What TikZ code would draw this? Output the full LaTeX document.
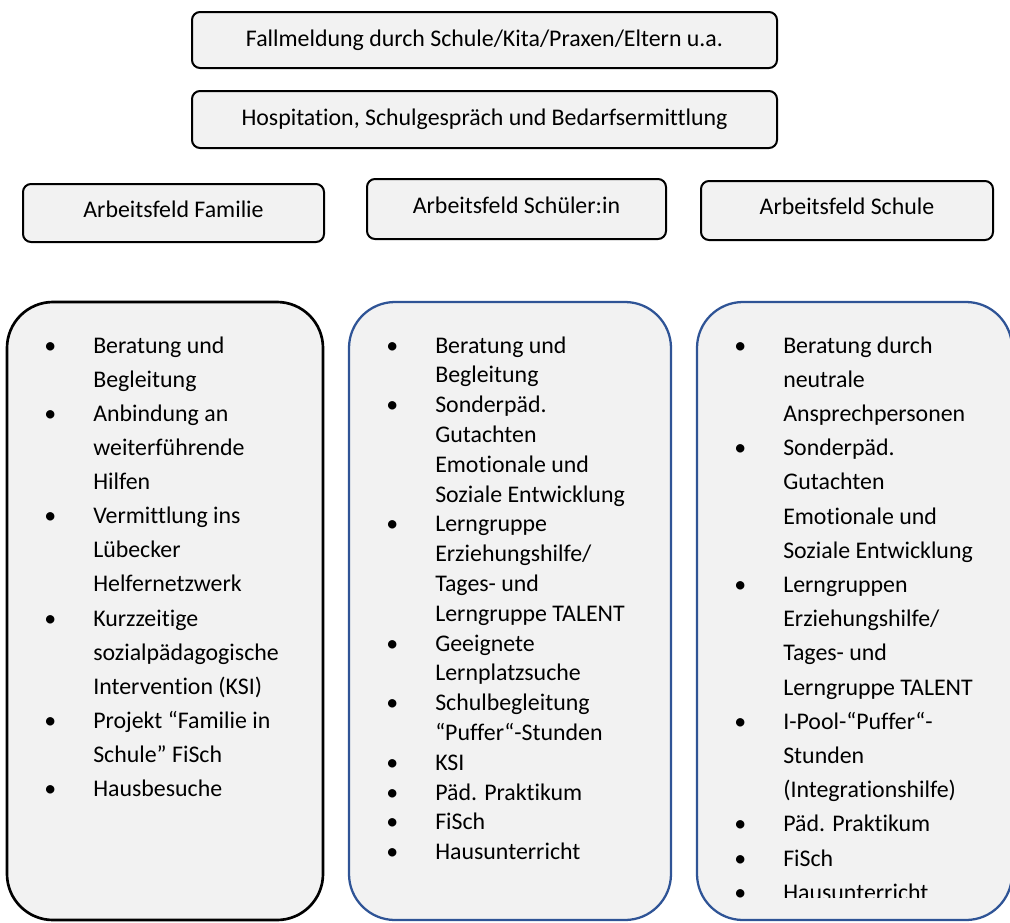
\documentclass[tikz,border=0pt]{standalone}
\usepackage{fontspec}
\setmainfont{Carlito}[RawFeature={-liga;-clig;-calt;-dlig}]
\definecolor{boxgray}{HTML}{F2F2F2}
\definecolor{boxblue}{HTML}{2F5496}
\newcommand\bul{\leavevmode\llap{\makebox[64.5pt][c]{\textbullet}}}
\newcommand\listpar[2]{\parbox[t]{230pt}{\fontsize{17.9pt}{#1}\selectfont\raggedright #2}}
\begin{document}
\begin{tikzpicture}[x=0.75pt,y=-0.75pt,
  topbox/.style={draw=black,line width=1.5pt,fill=boxgray,rounded corners=6pt,inner sep=0pt,
    font=\fontsize{17.9pt}{21pt}\selectfont},
  hightext/.style={text height=0.9em,text depth=0pt},
  fieldtext/.style={text height=0.64em,text depth=0pt},
  bigbox/.style={fill=boxgray,rounded corners=34.5pt,inner sep=0pt,minimum height=463.5pt},
  listtext/.style={anchor=base west,inner sep=0pt}]
\useasboundingbox (0,0) rectangle (1010,922);

% top boxes
\node[topbox,hightext,minimum width=438.75pt,minimum height=42pt] (meld) at (484.5,40)
  {Fallmeldung durch Schule/Kita/Praxen/Eltern u.a.};
\node[topbox,hightext,minimum width=438.75pt,minimum height=42.75pt] (hosp) at (484.5,119.5)
  {Hospitation, Schulgespräch und Bedarfsermittlung};

% field boxes
\node[topbox,fieldtext,minimum width=225.75pt,minimum height=43.5pt] (ffam) at (173.5,213)
  {Arbeitsfeld Familie};
\node[topbox,fieldtext,minimum width=224.25pt,minimum height=45pt] (fsch) at (516.5,209)
  {Arbeitsfeld Schüler:in};
\node[topbox,fieldtext,minimum width=219pt,minimum height=44.25pt] (fsc) at (847,210.5)
  {Arbeitsfeld Schule};

% big boxes
\node[bigbox,draw=black,line width=2pt,minimum width=237pt] (bfam) at (165,611) {};
\node[bigbox,draw=boxblue,line width=1.7pt,minimum width=241.5pt] (bsch) at (510,611) {};
\node[bigbox,draw=boxblue,line width=1.7pt,minimum width=236.25pt] (bsc) at (854.5,611) {};

% lists
\node[listtext] (lfam) at (93,353) {\listpar{25.6pt}{%
\bul Beratung und\\ Begleitung\\
\bul Anbindung an\\ weiterführende\\ Hilfen\\
\bul Vermittlung ins\\ Lübecker\\ Helfernetzwerk\\
\bul Kurzzeitige\\ sozialpädagogische\\ Intervention (KSI)\\
\bul Projekt “Familie in\\ Schule” FiSch\\
\bul Hausbesuche}};

\node[listtext] (lsch) at (435,353) {\listpar{22.35pt}{%
\bul Beratung und\\ Begleitung\\
\bul Sonderpäd.\\ Gutachten\\ Emotionale und\\ Soziale Entwicklung\\
\bul Lerngruppe\\ Erziehungshilfe/\\ Tages- und\\ Lerngruppe TALENT\\
\bul Geeignete\\ Lernplatzsuche\\
\bul Schulbegleitung\\ “Puffer“-Stunden\\
\bul KSI\\
\bul Päd. Praktikum\\
\bul FiSch\\
\bul Hausunterricht}};

\begin{scope}
\clip (697,302) rectangle (1012,897);
\node[listtext] (lsc) at (783,353) {\listpar{25.65pt}{%
\bul Beratung durch\\ neutrale\\ Ansprechpersonen\\
\bul Sonderpäd.\\ Gutachten\\ Emotionale und\\ Soziale Entwicklung\\
\bul Lerngruppen\\ Erziehungshilfe/\\ Tages- und\\ Lerngruppe TALENT\\
\bul I-Pool-“Puffer“-\\ Stunden\\ (Integrationshilfe)\\
\bul Päd. Praktikum\\
\bul FiSch\\
\bul Hausunterricht}};
\end{scope}
\end{tikzpicture}
\end{document}
